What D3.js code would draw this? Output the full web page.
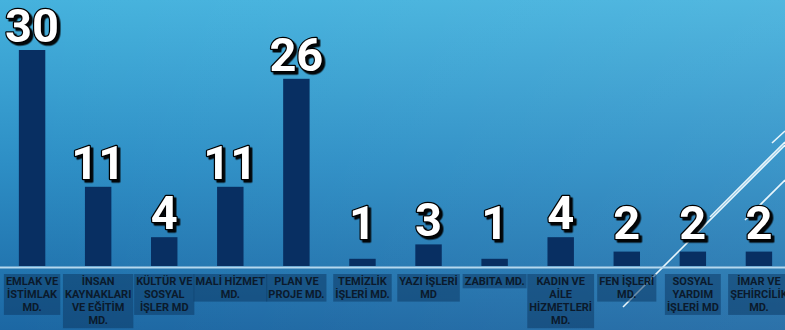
<!DOCTYPE html>
<html>
<head>
<meta charset="utf-8">
<script src="https://cdn.jsdelivr.net/npm/d3@7"></script>
<style>
html,body{margin:0;padding:0;overflow:hidden;background:#2a8ac2;}
svg{display:block;}
</style>
</head>
<body>
<svg id="chart" width="785" height="330"></svg>
<script>
const categories = [
  "EMLAK VE\nİSTİMLAK\nMD.",
  "İNSAN\nKAYNAKLARI\nVE EĞİTİM\nMD.",
  "KÜLTÜR VE\nSOSYAL\nİŞLER MD",
  "MALİ HİZMET\nMD.",
  "PLAN VE\nPROJE MD.",
  "TEMİZLİK\nİŞLERİ MD.",
  "YAZI İŞLERİ\nMD",
  "ZABITA MD.",
  "KADIN VE\nAİLE\nHİZMETLERİ\nMD.",
  "FEN İŞLERİ\nMD.",
  "SOSYAL\nYARDIM\nİŞLERİ MD",
  "İMAR VE\nŞEHİRCİLİK\nMD."
];
const values = [30, 11, 4, 11, 26, 1, 3, 1, 4, 2, 2, 2];

const W = 785, H = 330;
const svg = d3.select("#chart");
const defs = svg.append("defs");

const bg = defs.append("linearGradient").attr("id","bg")
  .attr("x1","0").attr("y1","0").attr("x2","0").attr("y2","1");
bg.append("stop").attr("offset","0%").attr("stop-color","#45b2dd");
bg.append("stop").attr("offset","50%").attr("stop-color","#2d8ec5");
bg.append("stop").attr("offset","100%").attr("stop-color","#1c67a3");
const bh = defs.append("linearGradient").attr("id","bh")
  .attr("x1","0").attr("y1","0").attr("x2","1").attr("y2","0");
bh.append("stop").attr("offset","0%").attr("stop-color","#ffffff").attr("stop-opacity",0);
bh.append("stop").attr("offset","100%").attr("stop-color","#ffffff").attr("stop-opacity",0.07);
svg.append("rect").attr("width",W).attr("height",H).attr("fill","url(#bg)");
svg.append("rect").attr("width",W).attr("height",H).attr("fill","url(#bh)");

const f = defs.append("filter").attr("id","ds")
  .attr("x","-20%").attr("y","-20%").attr("width","150%").attr("height","150%");
f.append("feDropShadow").attr("dx",2.5).attr("dy",2.5).attr("stdDeviation",0.6)
  .attr("flood-color","#000").attr("flood-opacity",0.95);

// decorative lines
const deco = [
  [623,307,785,145],
  [710,217,785,142],
  [745,220,785,180],
  [772,143,785,131]
];
svg.append("g").selectAll("line").data(deco).join("line")
  .attr("x1",d=>d[0]).attr("y1",d=>d[1]).attr("x2",d=>d[2]).attr("y2",d=>d[3])
  .attr("stroke","#e8f6fc").attr("stroke-width",1.6);

const x = d3.scaleBand().domain(categories).range([3, 788])
  .paddingInner(0.6).paddingOuter(0.24);
const y = d3.scaleLinear().domain([0, 30]).range([266, 50]);

// bars
svg.append("g").selectAll("rect").data(values).join("rect")
  .attr("x",(d,i)=>x(categories[i]))
  .attr("y",d=>y(d))
  .attr("width",x.bandwidth())
  .attr("height",d=>y(0)-y(d))
  .attr("fill","#082f62");

// baseline
svg.append("line").attr("x1",0).attr("x2",W)
  .attr("y1",y(0)+1.5).attr("y2",y(0)+1.5)
  .attr("stroke","#b5d8ee").attr("stroke-width",2);

// value labels
const lab = svg.append("g")
  .attr("font-family","Roboto, 'Open Sans', sans-serif")
  .attr("font-weight","700").attr("font-size","47px")
  .attr("text-anchor","middle");
const ly = d => Math.min(y(d) - 8, 239);
lab.selectAll("text").data(values).join("text")
  .attr("x",(d,i)=>x(categories[i]) + x.bandwidth()/2)
  .attr("y",d=>ly(d))
  .attr("fill","#fff").attr("stroke","#000").attr("stroke-width",2.5)
  .attr("stroke-linejoin","round").attr("paint-order","stroke")
  .attr("filter","url(#ds)")
  .text(d=>d);

// category labels
const lineH = 13.3, boxTop = 274;
const cg = svg.append("g");
categories.forEach((c,i)=>{
  const lines = c.split("\n");
  const cx = x(c) + x.bandwidth()/2;
  const g = cg.append("g");
  const box = g.append("rect");
  const t = g.append("text")
    .attr("font-family","Roboto, sans-serif").attr("font-weight","700")
    .attr("font-size","11px").attr("fill","#0b1a2c")
    .attr("text-anchor","middle");
  lines.forEach((l,j)=>{
    t.append("tspan").attr("x",cx).attr("y",boxTop + 10.5 + j*lineH).text(l);
  });
  const bb = t.node().getBBox();
  box.attr("x",bb.x - 2).attr("y",boxTop)
    .attr("width",bb.width + 4).attr("height",lines.length*lineH + 1)
    .attr("fill","#0c3a66").attr("fill-opacity",0.55);
});
</script>
</body>
</html>
